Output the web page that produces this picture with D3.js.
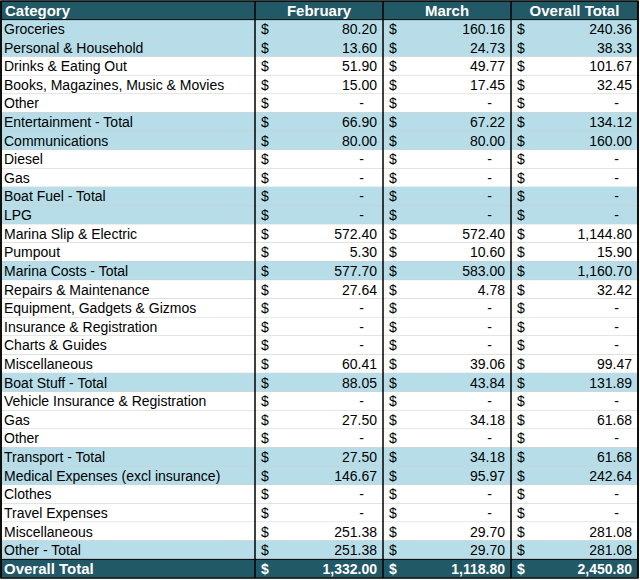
<!DOCTYPE html>
<html><head><meta charset="utf-8">
<script src="https://cdn.jsdelivr.net/npm/d3@7"></script>
<style>body{margin:0;background:#fff}</style>
</head><body>
<script>
const columns = ["Category", "February", "March", "Overall Total"];
const categories = ["Groceries","Personal & Household","Drinks & Eating Out","Books, Magazines, Music & Movies","Other","Entertainment - Total","Communications","Diesel","Gas","Boat Fuel - Total","LPG","Marina Slip & Electric","Pumpout","Marina Costs - Total","Repairs & Maintenance","Equipment, Gadgets & Gizmos","Insurance & Registration","Charts & Guides","Miscellaneous","Boat Stuff - Total","Vehicle Insurance & Registration","Gas","Other","Transport - Total","Medical Expenses (excl insurance)","Clothes","Travel Expenses","Miscellaneous","Other - Total","Overall Total"];
const february = [80.20,13.60,51.90,15.00,null,66.90,80.00,null,null,null,null,572.40,5.30,577.70,27.64,null,null,null,60.41,88.05,null,27.50,null,27.50,146.67,null,null,251.38,251.38,1332.00];
const march = [160.16,24.73,49.77,17.45,null,67.22,80.00,null,null,null,null,572.40,10.60,583.00,4.78,null,null,null,39.06,43.84,null,34.18,null,34.18,95.97,null,null,29.70,29.70,1118.80];
const overall = [240.36,38.33,101.67,32.45,null,134.12,160.00,null,null,null,null,1144.80,15.90,1160.70,32.42,null,null,null,99.47,131.89,null,61.68,null,61.68,242.64,null,null,281.08,281.08,2450.80];
const highlighted = [true,true,false,false,false,true,true,false,false,true,true,false,false,true,false,false,false,false,false,true,false,false,false,true,true,false,false,false,true,false];

const W = 640, H = 580;
const dark = "#215967", light = "#b7dee8";
const svg = d3.select("body").append("svg").attr("width", W).attr("height", H)
  .style("font-family", "'Liberation Sans', Arial, sans-serif").style("font-size", "14px");

const colEdges = [1, 255, 383, 511, 638];
const y = d3.scaleBand().domain(d3.range(categories.length + 1)).range([1, 578]);
const fmt = d3.format(",.2f");
const last = categories.length - 1;

const rows = categories.map((c, i) => ({i: i + 1, cat: c, vals: [february[i], march[i], overall[i]], hl: highlighted[i], total: i === last}));

// header
svg.append("rect").attr("x", colEdges[0]).attr("y", y(0)).attr("width", colEdges[4] - colEdges[0]).attr("height", y.bandwidth()).attr("fill", dark);
columns.forEach((c, j) => {
  svg.append("text").attr("x", j === 0 ? colEdges[0] + 4 : (colEdges[j] + colEdges[j + 1]) / 2)
    .attr("y", y(0) + y.bandwidth() / 2).attr("dy", "0.36em")
    .attr("text-anchor", j === 0 ? "start" : "middle")
    .attr("fill", "#fff").attr("font-weight", "bold").style("font-size", "15px").text(c);
});

const g = svg.selectAll("g.row").data(rows).join("g").attr("class", "row")
  .attr("transform", d => `translate(0,${y(d.i)})`);
g.append("rect").attr("x", colEdges[0]).attr("width", colEdges[4] - colEdges[0]).attr("height", y.bandwidth())
  .attr("fill", d => d.total ? dark : d.hl ? light : "#fff");
g.append("line").attr("x1", colEdges[0]).attr("x2", colEdges[4]).attr("y1", y.bandwidth()).attr("y2", y.bandwidth())
  .attr("stroke", "#c8c8c8").attr("stroke-width", 1);
g.append("text").attr("x", colEdges[0] + 3).attr("y", y.bandwidth() / 2).attr("dy", "0.36em")
  .attr("fill", d => d.total ? "#fff" : "#000").attr("font-weight", d => d.total ? "bold" : null)
  .style("font-size", d => d.total ? "15px" : null).text(d => d.cat);
[0, 1, 2].forEach(k => {
  g.append("text").attr("x", colEdges[k + 1] + 6).attr("y", y.bandwidth() / 2).attr("dy", "0.36em")
    .attr("fill", d => d.total ? "#fff" : "#000").attr("font-weight", d => d.total ? "bold" : null).text("$");
  g.append("text").attr("x", d => colEdges[k + 2] - (d.vals[k] == null ? 19 : 6)).attr("y", y.bandwidth() / 2).attr("dy", "0.36em")
    .attr("text-anchor", "end")
    .attr("fill", d => d.total ? "#fff" : "#000").attr("font-weight", d => d.total ? "bold" : null)
    .text(d => d.vals[k] == null ? "-" : fmt(d.vals[k]));
});

// borders
svg.append("line").attr("x1", colEdges[0]).attr("x2", colEdges[4]).attr("y1", y(1)).attr("y2", y(1)).attr("stroke", "#000");
svg.append("line").attr("x1", colEdges[0]).attr("x2", colEdges[4]).attr("y1", y(categories.length)).attr("y2", y(categories.length)).attr("stroke", "#000");
colEdges.forEach(x => svg.append("line").attr("x1", x).attr("x2", x).attr("y1", 1).attr("y2", 578).attr("stroke", "#000").attr("stroke-width", 1.5));
svg.append("rect").attr("x", colEdges[0]).attr("y", 1).attr("width", colEdges[4] - colEdges[0]).attr("height", 577)
  .attr("fill", "none").attr("stroke", "#000").attr("stroke-width", 1.5);
</script>
</body></html>
